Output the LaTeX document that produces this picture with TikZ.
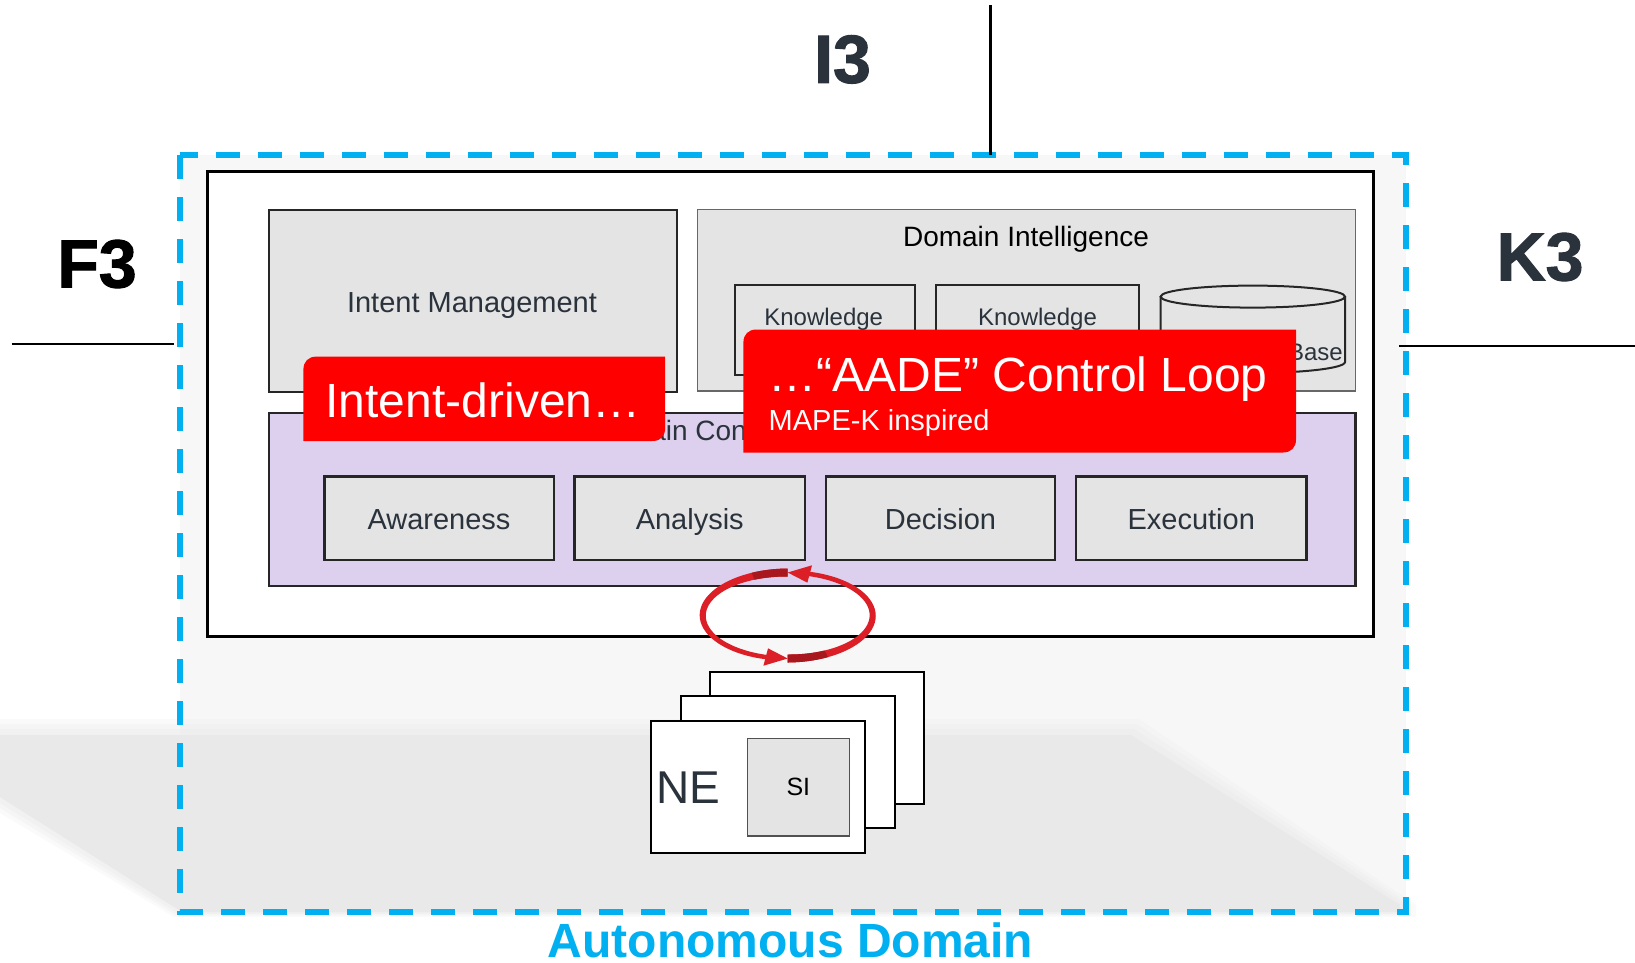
\documentclass[tikz,border=0pt]{standalone}
\usepackage{fontspec}
\setmainfont{Liberation Sans}
\newfontfamily\heavyfont{Liberation Sans}[FakeBold=1.6]
\definecolor{boxfill}{HTML}{E4E4E4}
\definecolor{boxline}{HTML}{262626}
\definecolor{labeltext}{HTML}{2A323C}
\definecolor{lavender}{HTML}{DDD0EE}
\definecolor{redc}{HTML}{FF0000}
\definecolor{cyanc}{HTML}{00B0F0}
\definecolor{areafill}{HTML}{F7F7F7}
\definecolor{shadowc}{HTML}{E9E9E9}
\definecolor{loopred}{HTML}{DC1E27}
\definecolor{loopdark}{HTML}{A8161E}
\pgfmathdeclarefunction{tw}{2}{\pgfmathparse{8-3.5*(#1-#2)/165}}
\newcommand{\redtab}[4]{\fill[redc] (#1,#4) -- (#1,#2+13) .. controls (#1,#2+5) and (#1+5,#2) .. (#1+13,#2) -- (#3,#2) -- (#3,#4-13) .. controls (#3,#4-5) and (#3-5,#4) .. (#3-13,#4) -- cycle;}
\newcommand{\loopband}[4]{% start angle, end angle, colour, taper origin
  \fill[#3] plot[domain=#1:#2, samples=40] ({787.7+(85+tw(\x,#4)/2)*cos(\x)}, {615.5-(43+tw(\x,#4)/2)*sin(\x)})
   -- plot[domain=#2:#1, samples=40] ({787.7+(85-tw(\x,#4)/2)*cos(\x)}, {615.5-(43-tw(\x,#4)/2)*sin(\x)}) -- cycle;}
\newcommand{\loophead}[2]{% base angle, tip angle
  \fill[loopred] ({787.7+94*cos(#1)}, {615.5-52*sin(#1)}) -- ({787.7+76*cos(#1)}, {615.5-34*sin(#1)}) -- ({787.7+85*cos(#2)}, {615.5-43*sin(#2)}) -- cycle;}
\newcommand{\shadowlayer}[2]{% grow, opacity
  \fill[shadowc, opacity=#2] (0,735-#1) -- (1131+#1*0.5,735-#1) -- (1400+#1,905) -- (1400+#1,912+#1*0.3) -- (182-#1*0.5,912+#1*0.3) -- (0,797+#1) -- cycle;}
\begin{document}
\begin{tikzpicture}[x=1pt,y=-1pt,
  box/.style={draw=boxline, line width=2.4pt, fill=boxfill, inner sep=0pt},
  lbl/.style={text=labeltext, inner sep=0pt, anchor=base, font=\fontsize{29}{34}\selectfont},
  biglbl/.style={inner sep=0pt, font=\fontsize{68}{74}\selectfont\heavyfont\bfseries},
  redlbl/.style={text=white, inner sep=0pt, font=\fontsize{48}{54}\selectfont},
  sheet/.style={draw=black, line width=2pt, fill=white, minimum width=214pt, minimum height=132pt, inner sep=0pt}]
\useasboundingbox (0,0) rectangle (1635,962);
\fill[white] (0,0) rectangle (1635,962);
% autonomous domain area and shadow
\fill[areafill] (180,155) rectangle (1406,912);
\shadowlayer{16}{0.2}
\shadowlayer{11}{0.25}
\shadowlayer{6}{0.3}
\shadowlayer{0}{1}
\draw[cyanc, line width=5.5pt, dash pattern=on 24pt off 18pt] (180,155) rectangle (1406,912);
\node[inner sep=0pt, anchor=base, text=cyanc, font=\fontsize{48}{54}\selectfont\bfseries] (adlabel) at (790.4,957) {Autonomous Domain};
% interface labels and lines
\node[biglbl, text=labeltext] (i3) at (842.5,59.4) {I3};
\node[biglbl, text=black] (f3) at (97,264) {F3};
\node[biglbl, text=labeltext] (k3) at (1540,257) {K3};
\coordinate (i3a) at (990.7,5);
\coordinate (i3b) at (990.7,155);
\coordinate (f3a) at (11.5,344);
\coordinate (f3b) at (174,344);
\coordinate (k3a) at (1399,346);
\coordinate (k3b) at (1635,346);
\draw[line width=2.7pt] (i3a) -- (i3b);
\draw[line width=2.7pt] (f3a) -- (f3b);
\draw[line width=2.7pt] (k3a) -- (k3b);
% main frame
\node[draw=black, line width=3pt, fill=white, minimum width=1166pt, minimum height=465pt, inner sep=0pt] (frame) at (790,403.5) {};
% intent management
\node[box, minimum width=408pt, minimum height=182pt] (im) at (473,301) {};
\node[lbl] (imtext) at (472,312) {Intent Management};
% domain intelligence
\node[draw=boxline!70, line width=1.6pt, fill=boxfill, minimum width=658pt, minimum height=181.4pt, inner sep=0pt] (di) at (1026.6,300.3) {};
\node[inner sep=0pt, anchor=base, font=\fontsize{28}{32}\selectfont] (ditext) at (1026,246.5) {Domain Intelligence};
\node[box, line width=2pt, minimum width=179.5pt, minimum height=90.7pt] (k1) at (824.75,330) {};
\node[box, line width=2pt, minimum width=202.3pt, minimum height=90.7pt] (k2) at (1037.45,330) {};
\node[lbl, font=\fontsize{24}{28}\selectfont] (k1text) at (823.7,325) {Knowledge};
\node[lbl, font=\fontsize{24}{28}\selectfont] (k2text) at (1037.5,325) {Knowledge};
\filldraw[draw=boxline, line width=2pt, fill=boxfill] (1160.6,296.6) -- (1160.6,362) .. controls (1160.6,368.1) and (1201.9,373) .. (1252.8,373) .. controls (1303.7,373) and (1345,368.1) .. (1345,362) -- (1345,296.6);
\filldraw[draw=boxline, line width=2pt, fill=boxfill] (1252.8,296.6) ellipse [x radius=92.2pt, y radius=11pt];
\node[lbl, font=\fontsize{24}{28}\selectfont] (kbtext) at (1252.8,360) {Knowledge Base};
% domain control
\node[box, fill=lavender, minimum width=1086.6pt, minimum height=173pt] (dc) at (812.3,499.5) {};
\node[lbl, font=\fontsize{28}{32}\selectfont, anchor=base west] (dctext) at (591,440.5) {Domain Control};
\node[box, minimum width=229.4pt, minimum height=83.5pt] (aw) at (439,518.25) {};
\node[box, minimum width=230.5pt, minimum height=83.5pt] (an) at (689.75,518.25) {};
\node[box, minimum width=229.4pt, minimum height=83.5pt] (de) at (940.5,518.25) {};
\node[box, minimum width=230.5pt, minimum height=83.5pt] (ex) at (1191.25,518.25) {};
\node[lbl] (awtext) at (439,529) {Awareness};
\node[lbl] (antext) at (689.75,529) {Analysis};
\node[lbl] (detext) at (940.5,529) {Decision};
\node[lbl] (extext) at (1191.25,529) {Execution};
% red callouts
\redtab{303.4}{356.6}{665.2}{441}
\node[redlbl] (idtext) at (483,400) {Intent-driven…};
\redtab{743.4}{329.5}{1296}{452.5}
\node[redlbl, anchor=base west] (aadetext) at (768.5,391) {…“AADE” Control Loop};
\node[redlbl, anchor=base west, font=\fontsize{29}{34}\selectfont] (mapetext) at (768.5,430.6) {MAPE-K inspired};
% control loop arrows
\loopband{90}{256}{loopred}{90}
\loopband{90}{114}{loopdark}{90}
\loophead{255}{270}
\loopband{270}{436}{loopred}{270}
\loopband{270}{297}{loopdark}{270}
\loophead{435}{450}
% network elements
\node[sheet] (ne3) at (817,737.75) {};
\node[sheet] (ne2) at (787.7,762) {};
\node[sheet] (ne1) at (758,787) {};
\node[draw=boxline!80, line width=1.6pt, fill=boxfill, minimum width=102pt, minimum height=97.4pt, inner sep=0pt] (si) at (798.3,787) {};
\node[inner sep=0pt, font=\fontsize{25}{29}\selectfont] (sitext) at (si) {SI};
\node[inner sep=0pt, text=labeltext, font=\fontsize{46}{52}\selectfont] (netext) at (688,787.5) {NE};
\end{tikzpicture}
\end{document}
